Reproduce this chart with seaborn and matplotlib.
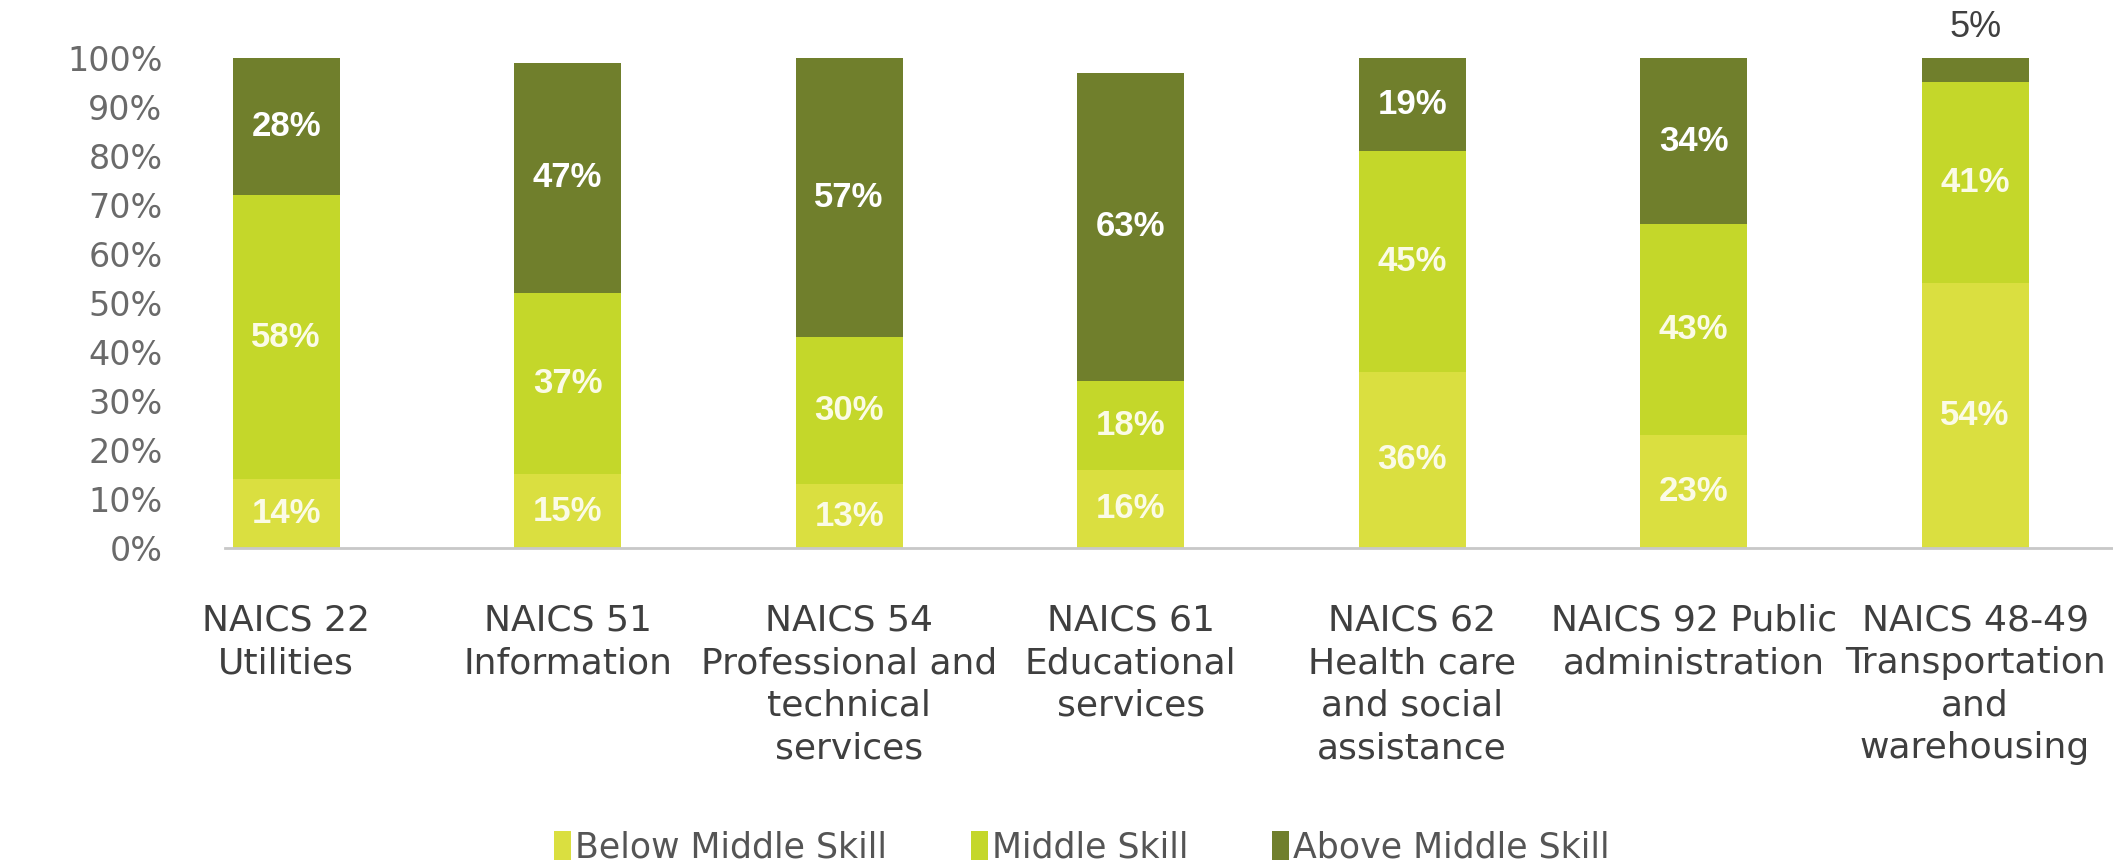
import matplotlib
matplotlib.use("Agg")
import matplotlib.pyplot as plt
from matplotlib.patches import Patch
import seaborn as sns
import pandas as pd
import numpy as np

# Industry categories (label lines as printed under each bar)
categories = [
    "NAICS 22\nUtilities",
    "NAICS 51\nInformation",
    "NAICS 54\nProfessional and\ntechnical\nservices",
    "NAICS 61\nEducational\nservices",
    "NAICS 62\nHealth care\nand social\nassistance",
    "NAICS 92 Public\nadministration",
    "NAICS 48-49\nTransportation\nand\nwarehousing",
]

# Share of jobs by skill level (percent)
below_middle = [14, 15, 13, 16, 36, 23, 54]
middle = [58, 37, 30, 18, 45, 43, 41]
above_middle = [28, 47, 57, 63, 19, 34, 5]

series_names = ["Below Middle Skill", "Middle Skill", "Above Middle Skill"]
colors = ["#dadf40", "#c4d72a", "#707f2c"]

sns.set_theme(style="white")
plt.rcParams["font.family"] = ["DejaVu Sans"]

label_family = ["DejaVu Sans"]
value_family = ["Liberation Sans", "DejaVu Sans"]

df = pd.DataFrame({
    "category": categories,
    "below": below_middle,
    "middle": middle,
    "above": above_middle,
})
df["cum1"] = df["below"]
df["cum2"] = df["below"] + df["middle"]
df["cum3"] = df["cum2"] + df["above"]

fig = plt.figure(figsize=(21.13, 8.63), dpi=100)
ax = fig.add_axes([0.1065, 0.365, 0.8935, 0.568])

# Stacked bars: draw cumulative totals back to front
bar_w = 0.38
for col, color in zip(["cum3", "cum2", "cum1"], colors[::-1]):
    sns.barplot(data=df, x="category", y=col, color=color, width=bar_w,
                saturation=1, ax=ax, errorbar=None, order=categories,
                edgecolor="none")

ax.set_ylim(0, 100)
ax.set_xlim(-0.217, 6.49)
ax.set_yticks(np.arange(0, 101, 10))
ax.set_yticklabels([f"{v}%" for v in range(0, 101, 10)],
                   fontsize=24, color="#6a6a6a")
ax.set_xticks(range(len(categories)))
ax.set_xticklabels(categories, fontsize=26, color="#3f3f3f",
                   family=label_family, linespacing=1.32, va="top")
ax.tick_params(axis="x", length=0, pad=40)
ax.tick_params(axis="y", length=0, pad=45)
ax.set_xlabel("")
ax.set_ylabel("")

for s in ["top", "right", "left"]:
    ax.spines[s].set_visible(False)
ax.spines["bottom"].set_color("#c8c8c8")
ax.spines["bottom"].set_linewidth(2)

# Segment value labels
for i in range(len(categories)):
    segs = [(0, below_middle[i]),
            (below_middle[i], middle[i]),
            (below_middle[i] + middle[i], above_middle[i])]
    for k, (base, val) in enumerate(segs):
        if k == 2 and val < 10:
            ax.annotate(f"{val}%", xy=(i, base + val), xytext=(0, 9),
                        textcoords="offset points", ha="center", va="bottom",
                        fontsize=26, color="#404040", family=value_family)
            continue
        txt_color = "white" if k == 2 else "#fbfbe6"
        ax.text(i, base + val / 2, f"{val}%", ha="center", va="center",
                fontsize=25, fontweight="bold", color=txt_color,
                family=value_family)

handles = [Patch(facecolor=c, edgecolor="none", label=n)
           for c, n in zip(colors, series_names)]
leg = fig.legend(handles=handles, loc="lower center",
                 bbox_to_anchor=(0.512, -0.038), ncol=3, frameon=False,
                 prop={"family": label_family, "size": 25},
                 handlelength=0.5, handleheight=0.9, handletextpad=0.12,
                 columnspacing=2.4)
for t in leg.get_texts():
    t.set_color("#555555")

fig.savefig("out.png", dpi=100)
